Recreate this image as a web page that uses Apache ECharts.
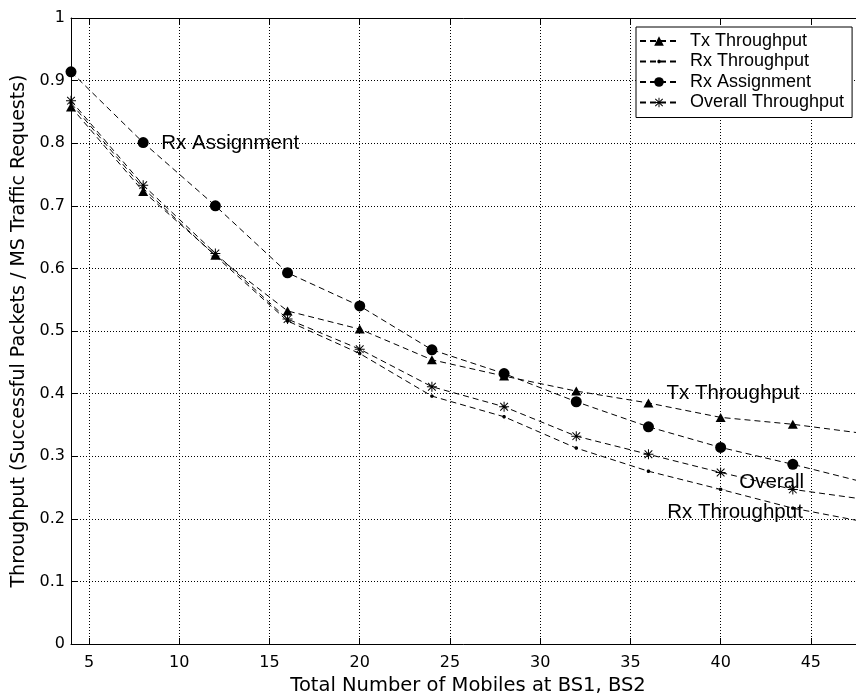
<!DOCTYPE html>
<html>
<head>
<meta charset="utf-8">
<script src="https://cdn.jsdelivr.net/npm/echarts@6/dist/echarts.min.js"></script>
<style>
html,body{margin:0;padding:0;background:#fff;overflow:hidden;}
#chart{width:856px;height:694px;}
</style>
</head>
<body>
<div id="chart"></div>
<script>
// ---- data ----
const xValues = [4, 8, 12, 16, 20, 24, 28, 32, 36, 40, 44, 48];
const txThroughput = [0.858, 0.723, 0.621, 0.532, 0.503, 0.454, 0.428, 0.404, 0.385, 0.362, 0.351, 0.336];
const rxThroughput = [0.864, 0.728, 0.620, 0.516, 0.464, 0.396, 0.363, 0.313, 0.276, 0.247, 0.217, 0.195];
const rxAssignment = [0.914, 0.801, 0.700, 0.593, 0.540, 0.470, 0.432, 0.387, 0.347, 0.314, 0.287, 0.258];
const overallThroughput = [0.868, 0.733, 0.624, 0.519, 0.471, 0.411, 0.379, 0.332, 0.303, 0.274, 0.247, 0.231];
const seriesNames = ['Tx Throughput', 'Rx Throughput', 'Rx Assignment', 'Overall Throughput'];
const xTitle = 'Total Number of Mobiles at BS1, BS2';
const yTitle = 'Throughput (Successful Packets / MS Traffic Requests)';
// in-plot annotations (text, anchor x, anchor y in data units)
const annotText = ['Rx Assignment', 'Tx Throughput', 'Overall', 'Rx Throughput'];
const annotX = [9.0, 37.0, 41.03, 37.04];
const annotY = [0.8, 0.4, 0.258, 0.210];

const ASTERISK = 'path://M4.5 0L5.5 0L5.5 10L4.5 10Z M0 4.5L10 4.5L10 5.5L0 5.5Z M0.8 1.5L1.5 0.8L9.2 8.5L8.5 9.2Z M8.5 0.8L9.2 1.5L1.5 9.2L0.8 8.5Z';
const DOT = 'path://M4.99 0L5.01 0L5.01 10L4.99 10Z M0 4.99L10 4.99L10 5.01L0 5.01Z M3.3 4.2L4.2 3.3L5.8 3.3L6.7 4.2L6.7 5.8L5.8 6.7L4.2 6.7L3.3 5.8Z';

const pairs = ys => xValues.map((x, i) => [x, ys[i]]);
const dash = [6, 4];
function mkSeries(name, ys, symbol, size) {
  return {
    name: name, type: 'line', data: pairs(ys),
    symbol: symbol, symbolSize: size, showAllSymbol: true,
    lineStyle: {color: '#000', width: 1, type: dash},
    itemStyle: {color: '#000'},
    emphasis: {disabled: true},
    animation: false
  };
}

const tickFont = {color: '#000', fontFamily: 'DejaVu Sans', fontSize: 16};
const chart = echarts.init(document.getElementById('chart'), null, {renderer: 'canvas'});
chart.setOption({
  backgroundColor: '#fff',
  animation: false,
  grid: {left: 71, width: 794, top: 18, bottom: 50, containLabel: false, outerBoundsMode: 'none'},
  legend: {
    orient: 'vertical', left: 636, top: 27,
    padding: [4, 8, 5, 3],
    itemWidth: 38, itemHeight: 12, itemGap: 0.5,
    backgroundColor: '#fff', borderColor: '#000', borderWidth: 1,
    textStyle: {color: '#000', fontFamily: 'Liberation Sans', fontSize: 18, lineHeight: 20, padding: [0, 0, 0, 7]},
    data: seriesNames
  },
  xAxis: [{
    type: 'value', min: 4, max: 48, splitNumber: 9, minInterval: 5, maxInterval: 5,
    axisLine: {show: true, lineStyle: {color: '#000', width: 1}},
    axisTick: {show: true, inside: true, length: 6, lineStyle: {color: '#000'}},
    axisLabel: Object.assign({margin: 11, showMinLabel: false, showMaxLabel: false}, tickFont),
    splitLine: {show: true, lineStyle: {color: '#000', width: 1, type: [1, 2]}},
    name: xTitle, nameLocation: 'middle', nameGap: 31,
    nameTextStyle: {color: '#000', fontFamily: 'DejaVu Sans', fontSize: 19.5}
  }, {
    type: 'value', position: 'top', min: 4, max: 48, splitNumber: 9, minInterval: 5, maxInterval: 5,
    axisLine: {show: true, lineStyle: {color: '#000', width: 1}},
    axisTick: {show: true, inside: true, length: 6, lineStyle: {color: '#000'}},
    axisLabel: {show: false},
    splitLine: {show: false}
  }],
  yAxis: {
    type: 'value', min: 0, max: 1, interval: 0.1,
    axisLine: {show: true, lineStyle: {color: '#000', width: 1}},
    axisTick: {show: true, inside: true, length: 6, lineStyle: {color: '#000'}},
    axisLabel: Object.assign({margin: 6}, tickFont),
    splitLine: {show: true, lineStyle: {color: '#000', width: 1, type: [1, 2]}},
    name: yTitle, nameLocation: 'middle', nameGap: 38,
    nameTextStyle: {color: '#000', fontFamily: 'DejaVu Sans', fontSize: 19}
  },
  series: [
    mkSeries(seriesNames[0], txThroughput, 'triangle', [10, 9]),
    mkSeries(seriesNames[1], rxThroughput, DOT, 10),
    mkSeries(seriesNames[2], rxAssignment, 'circle', 11),
    mkSeries(seriesNames[3], overallThroughput, ASTERISK, 10)
  ]
});

// place annotations through the chart's own coordinate conversion
const graphics = annotText.map((t, i) => {
  const p = chart.convertToPixel({gridIndex: 0}, [annotX[i], annotY[i]]);
  return {
    type: 'text', x: p[0], y: p[1], z: 100,
    style: {text: t, fill: '#000', font: '20.5px "Liberation Sans"', textAlign: 'left', textVerticalAlign: 'middle'}
  };
});
chart.setOption({graphic: graphics});
</script>
</body>
</html>
